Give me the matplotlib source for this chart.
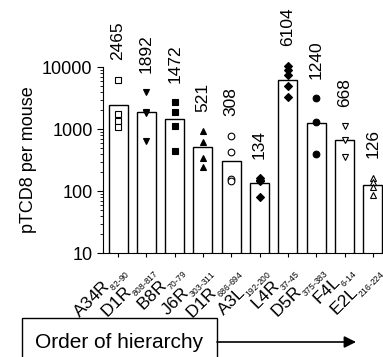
import numpy as np
import matplotlib
matplotlib.use("Agg")
import matplotlib.pyplot as plt
from matplotlib.patches import Rectangle, FancyArrowPatch

plt.rcParams['font.family'] = ['Liberation Sans', 'DejaVu Sans']
plt.rcParams['mathtext.fontset'] = 'custom'
plt.rcParams['mathtext.rm'] = 'Liberation Sans'

# epitopes in order of hierarchy
names = ["A34R", "D1R", "B8R", "J6R", "D1R", "A3L", "L4R", "D5R", "F4L", "E2L"]
subs = ["82-90", "808-817", "70-79", "303-311", "686-694", "192-200",
        "37-45", "375-383", "6-14", "216-224"]
means = [2465, 1892, 1472, 521, 308, 134, 6104, 1240, 668, 126]
mice = [
    [6300, 1750, 1350, 1080],
    [3900, 1900, 1850, 650],
    [2700, 1880, 1120, 440],
    [930, 620, 340, 245],
    [780, 420, 155, 145],
    [162, 150, 145, 80],
    [10500, 9000, 7600, 5000, 3250],
    [3150, 1290, 400],
    [1120, 670, 360],
    [165, 140, 118, 88],
]
markers = ["s", "v", "s", "^", "o", "D", "D", "o", "v", "^"]
filled = [False, True, True, True, False, True, True, True, False, False]

fig = plt.figure(figsize=(3.83, 3.57), dpi=100)
ax = fig.add_axes([0.269, 0.291, 0.731, 0.521])

x = np.arange(len(names))
ax.bar(x, means, width=0.67, color="white", edgecolor="black", linewidth=1.0, zorder=1)

for i in range(len(names)):
    fc = "black" if filled[i] else "white"
    ms = 4.5 if markers[i] == "D" else 4.8
    ax.plot([i] * len(mice[i]), mice[i], linestyle="none", marker=markers[i],
            markersize=ms, markerfacecolor=fc, markeredgecolor="black",
            markeredgewidth=0.8, zorder=3, clip_on=False)
    ax.annotate(str(means[i]), (i, max(mice[i])), xytext=(0, 14),
                textcoords="offset points", rotation=90, ha="center",
                va="bottom", fontsize=12.5, annotation_clip=False)

ax.set_yscale("log")
ax.set_ylim(10, 10000)
ax.set_xlim(-0.53, 9.36)
ax.set_yticks([10, 100, 1000, 10000])
ax.set_yticklabels(["10", "100", "1000", "10000"], fontsize=13)
ax.set_ylabel("pTCD8 per mouse", fontsize=13)

labels = [n + r"$_{_{\text{" + s + "}}}$" for n, s in zip(names, subs)]
ax.set_xticks(x)
ax.set_xticklabels(labels, rotation=45, ha="right", rotation_mode="anchor",
                   fontsize=12.5)
ax.tick_params(axis="x", length=3, pad=3)
ax.tick_params(axis="y", which="major", length=4)
ax.tick_params(axis="y", which="minor", length=2.5)

ax.spines["top"].set_visible(False)
ax.spines["right"].set_visible(False)

# hierarchy arrow box
W, H = 383, 357
fig.add_artist(Rectangle((22 / W, -0.05), 195 / W, 0.05 + (H - 318) / H,
                         transform=fig.transFigure, facecolor="white",
                         edgecolor="black", linewidth=1.0))
fig.text(119.5 / W, 1 - 342 / H, "Order of hierarchy", fontsize=15,
         ha="center", va="center")
fig.add_artist(FancyArrowPatch(
    (217 / W, 1 - 342 / H), (356 / W, 1 - 342 / H), transform=fig.transFigure,
    arrowstyle="-|>,head_length=7,head_width=3.5", color="black",
    linewidth=1.2, shrinkA=0, shrinkB=0))

fig.savefig("out.png", dpi=100)
